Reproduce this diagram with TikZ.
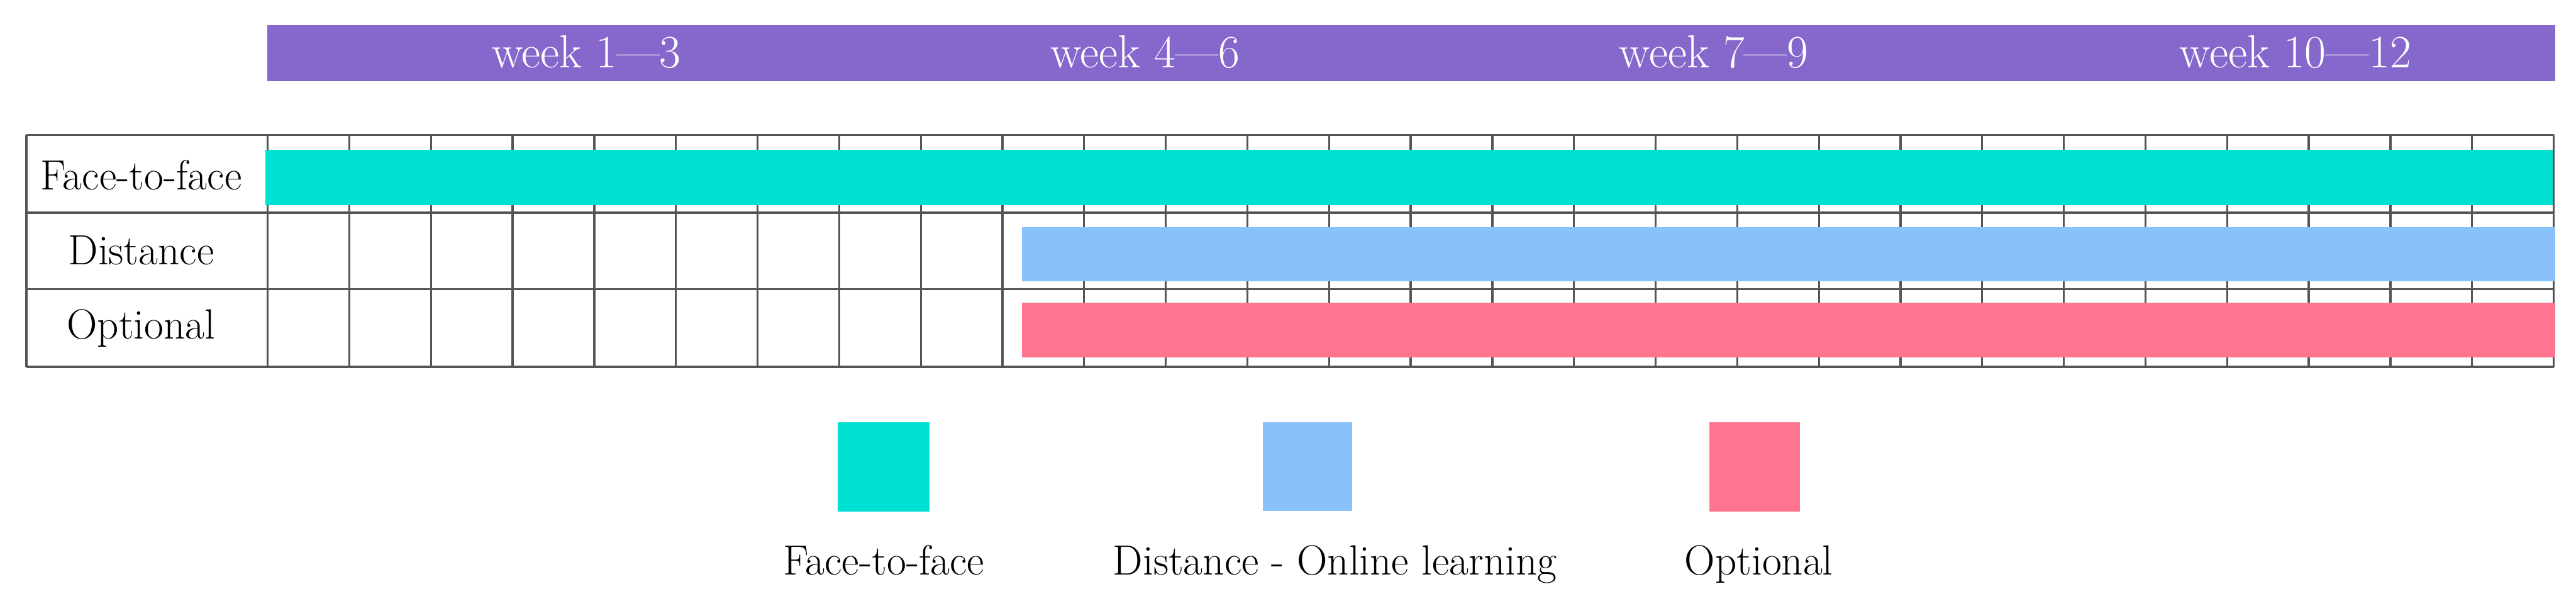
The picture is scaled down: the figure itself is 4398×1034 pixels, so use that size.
\documentclass[tikz,border=0pt]{standalone}
\usepackage{tikz}
\usetikzlibrary{positioning}
\definecolor{WeekPurple}{HTML}{8668CD}
\definecolor{FaceTeal}{HTML}{00E0D3}
\definecolor{DistBlue}{HTML}{89C2F9}
\definecolor{OptPink}{HTML}{FF7590}
\definecolor{GridGray}{HTML}{555555}

\begin{document}
\begin{tikzpicture}[x=0.01cm,y=-0.01cm,
    grid/.style={GridGray,line width=1pt},
    lbl/.style={font=\fontsize{20.5}{24}\selectfont,inner sep=0pt,anchor=base},
    wk/.style={font=\fontsize{22.5}{27}\selectfont,text=white,inner sep=0pt,anchor=base}]
    \useasboundingbox (0,0) rectangle (4398,1034);
    % header band
    \fill[WeekPurple] (456,43) rectangle (4362,139);
    \node[wk] (wkA) at (1001,115) {week 1\textemdash3};
    \node[wk] (wkB) at (1955,115) {week 4\textemdash6};
    \node[wk] (wkC) at (2926,115) {week 7\textemdash9};
    \node[wk] (wkD) at (3919,115) {week 10\textemdash12};
    % grid
    \foreach \i in {0,...,28}
      \draw[grid] ({457+\i*139.39},230) -- ({457+\i*139.39},626);
    \foreach \y in {230,363,493,626}
      \draw[grid] (45,\y) -- (4360,\y);
    \draw[grid] (45,230) -- (45,626);
    % bars
    \fill[FaceTeal] (453,256) rectangle (4358,350);
    \fill[DistBlue] (1745,388) rectangle (4362,480);
    \fill[OptPink] (1745,517) rectangle (4362,610);
    % row labels
    \node[lbl] (rowFace) at (241,324) {Face-to-face};
    \node[lbl] (rowDist) at (241,452) {Distance};
    \node[lbl] (rowOpt) at (241,578) {Optional};
    % legend
    \fill[FaceTeal] (1430,720) rectangle (1587,873);
    \fill[DistBlue] (2156,720) rectangle (2308,872);
    \fill[OptPink] (2918,720) rectangle (3073,873);
    \node[lbl] (keyFace) at (1509,981) {Face-to-face};
    \node[lbl] (keyDist) at (2279,981) {Distance - Online learning};
    \node[lbl] (keyOpt) at (3003,981) {Optional};
  \end{tikzpicture}
\end{document}
